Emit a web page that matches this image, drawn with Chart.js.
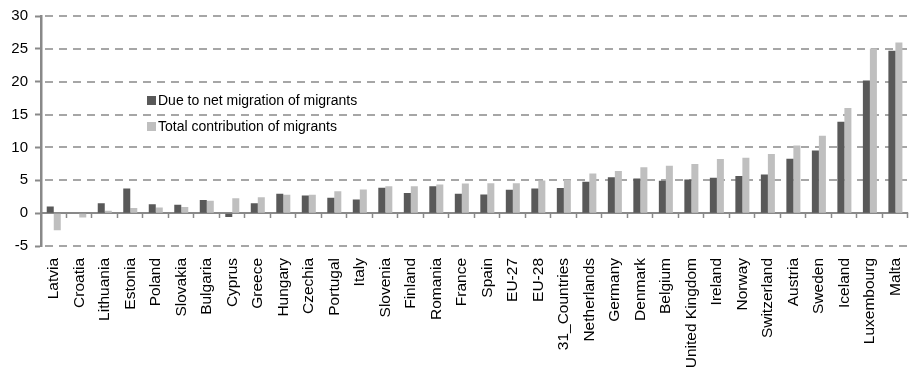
<!DOCTYPE html>
<html>
<head>
<meta charset="utf-8">
<script src="https://cdn.jsdelivr.net/npm/chart.js@4/dist/chart.umd.min.js"></script>
<style>
  html, body { margin: 0; padding: 0; background: #fff; }
  #wrap { width: 918px; height: 367px; }
</style>
</head>
<body>
<div id="wrap"><canvas id="migration-chart" width="918" height="367"></canvas></div>
<script>
var countries = ['Latvia', 'Croatia', 'Lithuania', 'Estonia', 'Poland', 'Slovakia', 'Bulgaria', 'Cyprus',
  'Greece', 'Hungary', 'Czechia', 'Portugal', 'Italy', 'Slovenia', 'Finland', 'Romania', 'France', 'Spain',
  'EU-27', 'EU-28', '31_Countries', 'Netherlands', 'Germany', 'Denmark', 'Belgium', 'United Kingdom',
  'Ireland', 'Norway', 'Switzerland', 'Austria', 'Sweden', 'Iceland', 'Luxembourg', 'Malta'];

var netMigration = [1.0, 0.0, 1.5, 3.75, 1.35, 1.27, 2.0, -0.6,
  1.52, 2.94, 2.69, 2.33, 2.08, 3.86, 3.05, 4.11, 2.94, 2.84,
  3.55, 3.76, 3.81, 4.77, 5.48, 5.28, 4.92, 5.13,
  5.38, 5.64, 5.89, 8.28, 9.55, 13.92, 20.17, 24.7];

var totalContribution = [-2.6, -0.65, 0.35, 0.8, 0.85, 0.95, 1.9, 2.28,
  2.43, 2.79, 2.79, 3.35, 3.6, 4.11, 4.11, 4.37, 4.5, 4.55,
  4.55, 4.98, 5.08, 6.05, 6.4, 7.0, 7.21, 7.46,
  8.23, 8.43, 8.99, 10.3, 11.78, 16.0, 25.04, 25.96];

var seriesNames = ['Due to net migration of migrants', 'Total contribution of migrants'];

var yMin = -5, yMax = 30, yStep = 5;

var axisGray = '#898989';
var gridGray = '#a6a6a6';
var fontFamily = '"Liberation Sans", Arial, sans-serif';

// dashed value grid, then a solid zero line with small ticks between categories
var plotLines = {
  id: 'plotLines',
  beforeDatasetsDraw: function (chart) {
    var ctx = chart.ctx, x = chart.scales.x, y = chart.scales.y, area = chart.chartArea;
    ctx.save();
    ctx.strokeStyle = gridGray;
    ctx.lineWidth = 2;
    ctx.setLineDash([8, 6]);
    y.ticks.forEach(function (t) {
      if (t.value === 0) return;
      var py = Math.round(y.getPixelForValue(t.value));
      ctx.beginPath();
      ctx.moveTo(area.left + 4, py);
      ctx.lineTo(area.right, py);
      ctx.stroke();
    });
    ctx.setLineDash([]);

    var y0 = Math.round(y.getPixelForValue(0));
    ctx.strokeStyle = axisGray;
    ctx.lineWidth = 2;
    ctx.beginPath();
    ctx.moveTo(area.left, y0);
    ctx.lineTo(area.right, y0);
    ctx.stroke();
    ctx.lineWidth = 1.5;
    for (var i = 1; i <= countries.length; i++) {
      var px = Math.round(x.getPixelForValue(i - 0.5)) - 0.5;
      ctx.beginPath();
      ctx.moveTo(px, y0);
      ctx.lineTo(px, y0 + 5);
      ctx.stroke();
    }
    ctx.restore();
  }
};

// legend drawn inside the plot area
var innerLegend = {
  id: 'innerLegend',
  afterDraw: function (chart) {
    var ctx = chart.ctx;
    ctx.save();
    ctx.font = '14px ' + fontFamily;
    ctx.textBaseline = 'middle';
    chart.data.datasets.forEach(function (ds, i) {
      var top = 100 + i * 26;
      ctx.fillStyle = ds.backgroundColor;
      ctx.fillRect(147, top - 4, 9, 9);
      ctx.fillStyle = '#000';
      ctx.fillText(ds.label, 158, top + 1);
    });
    ctx.restore();
  }
};

new Chart(document.getElementById('migration-chart').getContext('2d'), {
  type: 'bar',
  data: {
    labels: countries,
    datasets: [
      { label: seriesNames[0], data: netMigration, backgroundColor: '#595959' },
      { label: seriesNames[1], data: totalContribution, backgroundColor: '#bfbfbf' }
    ]
  },
  options: {
    responsive: false,
    animation: false,
    devicePixelRatio: 1,
    layout: { padding: { top: 8, right: 0, left: 0, bottom: 0 } },
    datasets: { bar: { categoryPercentage: 0.55, barPercentage: 1.0 } },
    plugins: { legend: { display: false }, tooltip: { enabled: false } },
    scales: {
      x: {
        grid: { display: false },
        border: { display: false },
        ticks: {
          autoSkip: false,
          minRotation: 90,
          maxRotation: 90,
          padding: 4,
          color: '#000',
          font: { family: fontFamily, size: 15.5 }
        },
        afterFit: function (scale) { scale.height = 121; }
      },
      y: {
        min: yMin,
        max: yMax,
        ticks: {
          stepSize: yStep,
          padding: 7,
          color: '#000',
          font: { family: fontFamily, size: 15 }
        },
        grid: {
          drawOnChartArea: false,
          tickLength: 6,
          tickColor: axisGray,
          tickWidth: 2
        },
        border: { display: true, color: axisGray, width: 2.5 },
        afterFit: function (scale) { scale.width = 41; }
      }
    }
  },
  plugins: [plotLines, innerLegend]
});
</script>
</body>
</html>
